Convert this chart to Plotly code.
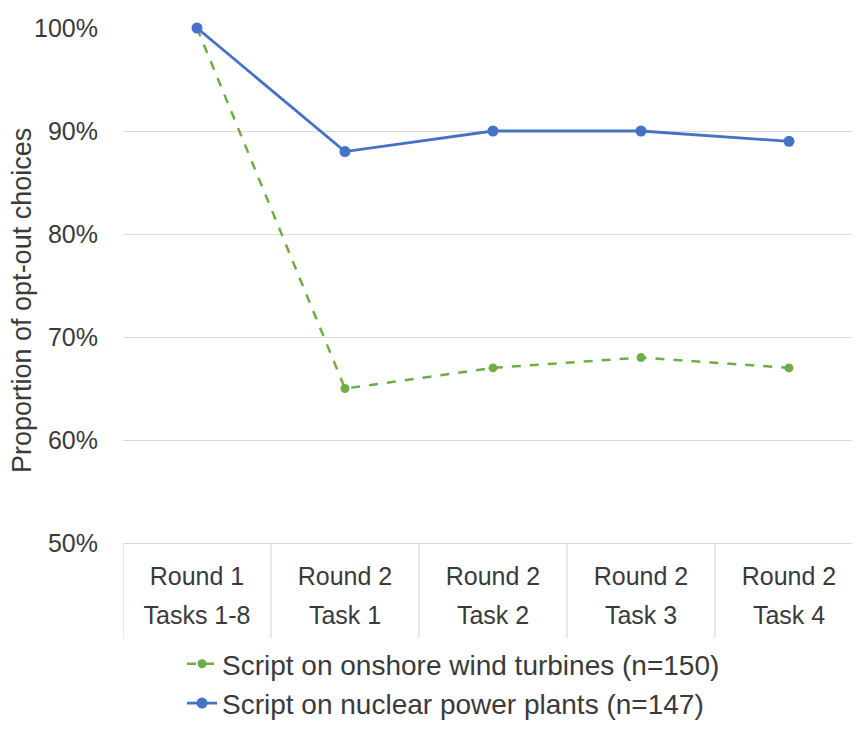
import plotly.graph_objects as go

cat_line1 = ["Round 1", "Round 2", "Round 2", "Round 2", "Round 2"]
cat_line2 = ["Tasks 1-8", "Task 1", "Task 2", "Task 3", "Task 4"]
wind_values = [100, 65, 67, 68, 67]
nuclear_values = [100, 88, 90, 90, 89]
wind_name = "Script on onshore wind turbines (n=150)"
nuclear_name = "Script on nuclear power plants (n=147)"
y_ticks = [50, 60, 70, 80, 90, 100]
y_title = "Proportion of opt-out choices"

FONT = "Liberation Sans, Arial, sans-serif"
TXT = "#3a3a3a"
GRID = "#d9d9d9"

x_idx = list(range(len(cat_line1)))

fig = go.Figure()
fig.add_trace(go.Scatter(
    x=x_idx, y=wind_values, name=wind_name, mode="lines+markers",
    line=dict(color="#70AD47", width=2.5, dash="dash"),
    marker=dict(color="#70AD47", size=9), cliponaxis=False))
fig.add_trace(go.Scatter(
    x=x_idx, y=nuclear_values, name=nuclear_name, mode="lines+markers",
    xaxis="x2", yaxis="y",
    line=dict(color="#4472C4", width=2.8),
    marker=dict(color="#4472C4", size=11), cliponaxis=False))

# divider lines of the category "table" below the axis
for b in [i - 0.5 for i in range(len(cat_line1) + 1)]:
    fig.add_shape(type="line", xref="x", yref="paper", x0=b, x1=b, y0=0, y1=-0.1845,
                  line=dict(color=GRID, width=1.2))

W, H = 852, 727
L, R, T, B = 115, 0, 20, 192
plot_w = W - L - R
plot_h = H - T - B
span = plot_w / 148.0

fig.add_annotation(text=y_title, textangle=-90, xref="paper", yref="paper",
                   x=(14 - L) / plot_w, y=(H - B - 293) / plot_h,
                   xanchor="center", yanchor="middle", showarrow=False,
                   font=dict(size=27, color=TXT))

fig.update_layout(
    width=W, height=H,
    margin=dict(l=L, r=R, t=T, b=B, autoexpand=False),
    paper_bgcolor="white", plot_bgcolor="white",
    font=dict(family=FONT, color=TXT, size=25),
    showlegend=True,
    legend=dict(xref="container", yref="container", x=174 / W, y=1 - 631 / H,
                xanchor="left", yanchor="top", font=dict(size=28, color=TXT),
                bgcolor="rgba(0,0,0,0)", tracegroupgap=0, itemwidth=30,
                traceorder="normal"),
    xaxis=dict(range=[-0.5, -0.5 + span], tickmode="array", tickvals=x_idx,
               ticktext=cat_line1, showgrid=False, zeroline=False, automargin=False,
               tickangle=0,
               showline=True, linecolor=GRID, linewidth=1.2, ticks="",
               tickfont=dict(size=25, color=TXT), ticklabelstandoff=11),
    xaxis2=dict(matches="x", overlaying="x", anchor="y", side="bottom",
                range=[-0.5, -0.5 + span], tickmode="array", tickvals=x_idx,
                ticktext=cat_line2, showgrid=False, zeroline=False, automargin=False,
                tickangle=0, showline=False, ticks="",
                tickfont=dict(size=25, color=TXT), ticklabelstandoff=55),
    yaxis=dict(range=[50, 100], tickmode="array", tickvals=y_ticks,
               ticktext=[f"{v}%" for v in y_ticks], showgrid=True, automargin=False,
               gridcolor=GRID, gridwidth=1.2, zeroline=False, showline=False,
               ticks="", tickfont=dict(size=25, color=TXT), ticklabelstandoff=24),
)

fig.write_html("out.html")
